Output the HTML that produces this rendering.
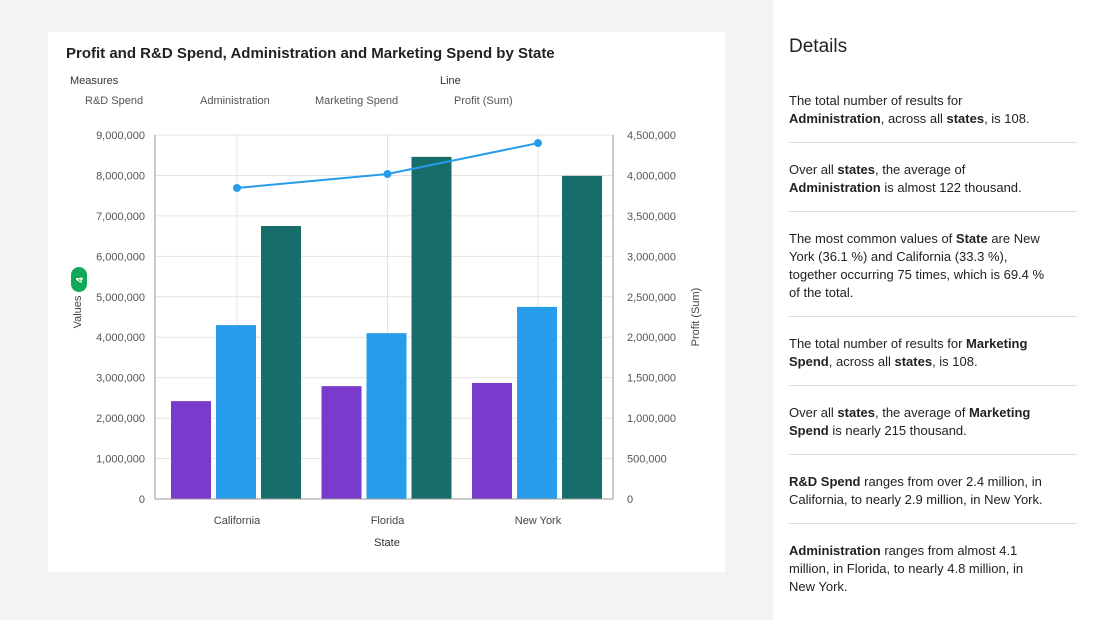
<!DOCTYPE html>
<html><head><meta charset="utf-8"><style>
body{margin:0;width:1109px;height:620px;background:#f3f3f3;font-family:"Liberation Sans",sans-serif;position:relative;overflow:hidden}
#card{position:absolute;left:48px;top:32px;width:677px;height:540px;background:#fff}
#side{position:absolute;left:773px;top:0;width:336px;height:620px;background:#fff;overflow:hidden}
#side h2{font-weight:normal;font-size:19px;color:#222;margin:0;position:absolute;left:16px;top:36px}
#list{position:absolute;left:16px;top:92px;width:288px}
.it{font-size:13px;line-height:18px;color:#222;border-bottom:1px solid #ddd;padding-bottom:14px;margin-bottom:18px;white-space:nowrap}
.it b{font-weight:bold}
</style></head><body>
<div id="card"></div>
<svg width="1109" height="620" style="position:absolute;left:0;top:0" id="chart" font-family="Liberation Sans, sans-serif">
<text x="66" y="58" font-size="15" font-weight="bold" fill="#222">Profit and R&amp;D Spend, Administration and Marketing Spend by State</text>
<text x="70" y="84" font-size="11" fill="#333">Measures</text>
<text x="440" y="84" font-size="11" fill="#333">Line</text>
<text x="85" y="104" font-size="11" fill="#555">R&amp;D Spend</text>
<text x="200" y="104" font-size="11" fill="#555">Administration</text>
<text x="315" y="104" font-size="11" fill="#555">Marketing Spend</text>
<text x="454" y="104" font-size="11" fill="#555">Profit (Sum)</text>
<g id="grid"></g><g id="bars"></g><g id="line"></g><g id="axes"></g>
<text transform="translate(81,312) rotate(-90)" text-anchor="middle" font-size="11" fill="#444">Values</text>
<rect x="71" y="267" width="16" height="25" rx="8" fill="#0fa958"/>
<text transform="translate(83,280) rotate(-90)" text-anchor="middle" font-size="10" font-weight="bold" fill="#fff">4</text>
<text transform="translate(699,317) rotate(-90)" text-anchor="middle" font-size="11" fill="#444">Profit (Sum)</text>
<text x="387" y="546" text-anchor="middle" font-size="11" fill="#333">State</text>
</svg>
<div id="side">
<h2>Details</h2>
<div id="list">
<div class="it">The total number of results for<br><b>Administration</b>, across all <b>states</b>, is 108.</div>
<div class="it">Over all <b>states</b>, the average of<br><b>Administration</b> is almost 122 thousand.</div>
<div class="it">The most common values of <b>State</b> are New<br>York (36.1 %) and California (33.3 %),<br>together occurring 75 times, which is 69.4 %<br>of the total.</div>
<div class="it">The total number of results for <b>Marketing</b><br><b>Spend</b>, across all <b>states</b>, is 108.</div>
<div class="it">Over all <b>states</b>, the average of <b>Marketing</b><br><b>Spend</b> is nearly 215 thousand.</div>
<div class="it"><b>R&amp;D Spend</b> ranges from over 2.4 million, in<br>California, to nearly 2.9 million, in New York.</div>
<div class="it" style="border:none"><b>Administration</b> ranges from almost 4.1<br>million, in Florida, to nearly 4.8 million, in<br>New York.</div>
</div>
</div>
<script>
const categories=["California","Florida","New York"];
const rdSpend=[2420000,2790000,2870000];
const administration=[4300000,4100000,4750000];
const marketingSpend=[6750000,8460000,7990000];
const profit=[3845000,4018000,4400000];
const leftTicks=[0,1000000,2000000,3000000,4000000,5000000,6000000,7000000,8000000,9000000];
const rightTicks=[0,500000,1000000,1500000,2000000,2500000,3000000,3500000,4000000,4500000];
const NS="http://www.w3.org/2000/svg";
const X0=155,X1=613,Y0=499,Y1=135;
const yL=v=>Y0-(v/9000000)*(Y0-Y1);
const yR=v=>Y0-(v/4500000)*(Y0-Y1);
const bw=150.5;
const xC=i=>237+bw*i;
function mk(tag,attrs,parent){const e=document.createElementNS(NS,tag);for(const k in attrs)e.setAttribute(k,attrs[k]);document.getElementById(parent).appendChild(e);return e;}
const fmt=v=>v.toLocaleString("en-US");
leftTicks.forEach(t=>{
 const l=mk("line",{x1:X0,x2:X1,y1:yL(t),y2:yL(t),stroke:"#e4e4e4"},"grid");
 
 
 const tx=mk("text",{x:X0-10,y:yL(t)+4,"text-anchor":"end","font-size":11,fill:"#555"},"axes");tx.textContent=fmt(t);
 
 
});
rightTicks.forEach(t=>{
 const tx=mk("text",{x:X1+14,y:yR(t)+4,"font-size":11,fill:"#555"},"axes");tx.textContent=fmt(t);
 
 
});
categories.forEach((c,i)=>{
 mk("line",{x1:xC(i),x2:xC(i),y1:Y1,y2:Y0,stroke:"#e4e4e4"},"grid");
 const tx=mk("text",{x:xC(i),y:524,"text-anchor":"middle","font-size":11,fill:"#444"},"axes");tx.textContent=c;
 
 
 const series=[[rdSpend,"#7a3bcc","bar-rd-spend"],[administration,"#279cea","bar-administration"],[marketingSpend,"#176d69","bar-marketing-spend"]];
 series.forEach((s,j)=>{
  const x=xC(i)-66+j*45;
  const r=mk("rect",{x:x,y:yL(s[0][i]),width:40,height:Y0-yL(s[0][i]),fill:s[1]},"bars");
  
  
 });
});
mk("line",{x1:X0,x2:X0,y1:Y1,y2:Y0,stroke:"#999"},"axes");
mk("line",{x1:X1,x2:X1,y1:Y1,y2:Y0,stroke:"#999"},"axes");
mk("line",{x1:X0,x2:X1,y1:Y0,y2:Y0,stroke:"#999"},"axes");
const pl=mk("polyline",{points:profit.map((v,i)=>xC(i)+","+yR(v)).join(" "),fill:"none",stroke:"#279cea","stroke-width":2},"line");


profit.forEach((v,i)=>{
 const c=mk("circle",{cx:xC(i),cy:yR(v),r:4,fill:"#279cea"},"line");
 
 
});
</script>
</body></html>
